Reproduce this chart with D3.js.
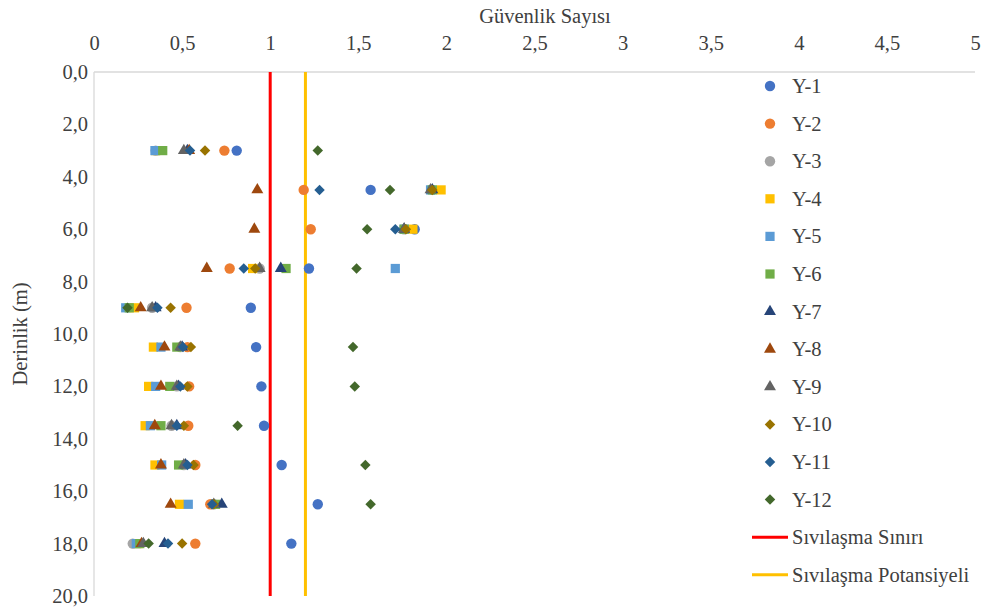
<!DOCTYPE html>
<html><head><meta charset="utf-8">
<script src="https://cdn.jsdelivr.net/npm/d3@7"></script>
<style>body{margin:0;background:#fff}svg{display:block}text{font-family:"Liberation Serif","DejaVu Serif",serif;fill:#404040}</style>
</head><body><svg id="c" width="983" height="611"></svg>
<script>
const depths = [3,4.5,6,7.5,9,10.5,12,13.5,15,16.5,18];
const Y1  = [0.81,1.57,1.82,1.22,0.89,0.92,0.95,0.965,1.065,1.27,1.12];
const Y2  = [0.74,1.19,1.23,0.77,0.525,0.53,0.54,0.535,0.575,0.66,0.575];
const Y3  = [0.35,1.92,1.76,0.94,0.33,0.49,0.47,0.44,0.51,0.68,0.22];
const Y4  = [0.35,1.97,1.81,0.90,0.23,0.337,0.31,0.29,0.346,0.485,0.25];
const Y5  = [0.346,1.91,1.76,1.71,0.18,0.38,0.35,0.32,0.384,0.535,0.24];
const Y6  = [0.39,1.92,1.76,1.09,0.20,0.47,0.43,0.38,0.48,0.69,0.26];
const Y7  = [0.53,1.92,1.76,1.06,0.35,0.50,0.48,0.47,0.52,0.725,0.40];
const Y8  = [0.54,0.927,0.91,0.64,0.265,0.40,0.38,0.345,0.38,0.435,0.27];
const Y9  = [0.51,1.91,1.76,0.94,0.33,0.49,0.47,0.44,0.51,0.68,0.28];
const Y10 = [0.63,1.92,1.77,0.915,0.435,0.55,0.53,0.51,0.565,0.68,0.50];
const Y11 = [0.545,1.28,1.71,0.85,0.36,0.505,0.49,0.47,0.53,0.67,0.42];
const Y12 = [1.27,1.68,1.55,1.49,0.19,1.47,1.48,0.815,1.54,1.57,0.31];
const seriesNames = ["Y-1","Y-2","Y-3","Y-4","Y-5","Y-6","Y-7","Y-8","Y-9","Y-10","Y-11","Y-12"];
const seriesValues = [Y1,Y2,Y3,Y4,Y5,Y6,Y7,Y8,Y9,Y10,Y11,Y12];
const seriesColors = ["#4472C4","#ED7D31","#A5A5A5","#FFC000","#5B9BD5","#70AD47","#264478","#9E480E","#636363","#997300","#255E91","#43682B"];
const seriesShapes = ["circle","circle","circle","square","square","square","triangle","triangle","triangle","diamond","diamond","diamond"];
const refNames = ["Sıvılaşma Sınırı","Sıvılaşma Potansiyeli"];
const refValues = [1.0, 1.2];
const refColors = ["#FF0000","#FFC000"];
const xTicks = [0,0.5,1,1.5,2,2.5,3,3.5,4,4.5,5];
const yTicks = [0,2,4,6,8,10,12,14,16,18,20];

const svg = d3.select("#c");
const L=94, R=975, T=72, B=596;
const FS = 20.5;
const x = d3.scaleLinear().domain([0,5]).range([L,R]);
const y = d3.scaleLinear().domain([0,20]).range([T,B]);
const fmt = v => d3.format(".1f")(v).replace(".",",");
const fmtX = v => String(v).replace(".",",");

svg.append("line").attr("x1",L).attr("x2",R).attr("y1",T).attr("y2",T).attr("stroke","#d9d9d9").attr("stroke-width",1.3);
svg.append("line").attr("x1",L).attr("x2",L).attr("y1",T).attr("y2",B).attr("stroke","#d9d9d9").attr("stroke-width",1.3);

const xa = svg.append("g").attr("transform",`translate(0,${T})`).call(d3.axisTop(x).tickValues(xTicks).tickFormat(fmtX).tickSize(0).tickPadding(0));
xa.attr("font-family",null).attr("font-size",null);
xa.select(".domain").remove();
xa.selectAll("text").attr("y",-22).attr("font-size",FS).attr("fill","#404040");
const ya = svg.append("g").attr("transform",`translate(${L},0)`).call(d3.axisLeft(y).tickValues(yTicks).tickFormat(fmt).tickSize(0).tickPadding(6));
ya.attr("font-family",null).attr("font-size",null);
ya.select(".domain").remove();
ya.selectAll("text").attr("font-size",FS).attr("fill","#404040");

svg.append("text").attr("x",545).attr("y",23).attr("text-anchor","middle").attr("font-size",FS).text("Güvenlik Sayısı");
svg.append("text").attr("transform","translate(27,334) rotate(-90)").attr("text-anchor","middle").attr("font-size",FS).text("Derinlik (m)");

refValues.forEach((v,i)=>{
  svg.append("line").attr("x1",x(v)).attr("x2",x(v)).attr("y1",T).attr("y2",B).attr("stroke",refColors[i]).attr("stroke-width",3);
});

const diamondType = { draw(ctx, size){ const r=Math.sqrt(size/2); ctx.moveTo(0,-r); ctx.lineTo(r,0); ctx.lineTo(0,r); ctx.lineTo(-r,0); ctx.closePath(); } };
function shapePath(shape){
  const m = {circle:d3.symbolCircle,square:d3.symbolSquare,triangle:d3.symbolTriangle,diamond:diamondType};
  const s = {circle:85,square:85,triangle:62,diamond:55};
  return d3.symbol().type(m[shape]).size(s[shape])();
}

seriesValues.forEach((vals,i)=>{
  const g = svg.append("g");
  g.selectAll("path").data(vals.map((v,j)=>({v,d:depths[j]}))).join("path")
    .attr("d",shapePath(seriesShapes[i]))
    .attr("transform",p=>`translate(${x(p.v)},${y(p.d)})`)
    .attr("fill",seriesColors[i]);
});

const lx=770, ly0=86, ldy=37.6;
seriesNames.forEach((n,i)=>{
  const yy = ly0+i*ldy;
  svg.append("path").attr("d",shapePath(seriesShapes[i])).attr("transform",`translate(${lx},${yy})`).attr("fill",seriesColors[i]);
  svg.append("text").attr("x",792).attr("y",yy+7).attr("font-size",FS).text(n);
});
refNames.forEach((n,i)=>{
  const yy = ly0+(12+i)*ldy;
  svg.append("line").attr("x1",752).attr("x2",788).attr("y1",yy).attr("y2",yy).attr("stroke",refColors[i]).attr("stroke-width",3);
  svg.append("text").attr("x",792).attr("y",yy+7).attr("font-size",FS).text(n);
});
</script></body></html>
